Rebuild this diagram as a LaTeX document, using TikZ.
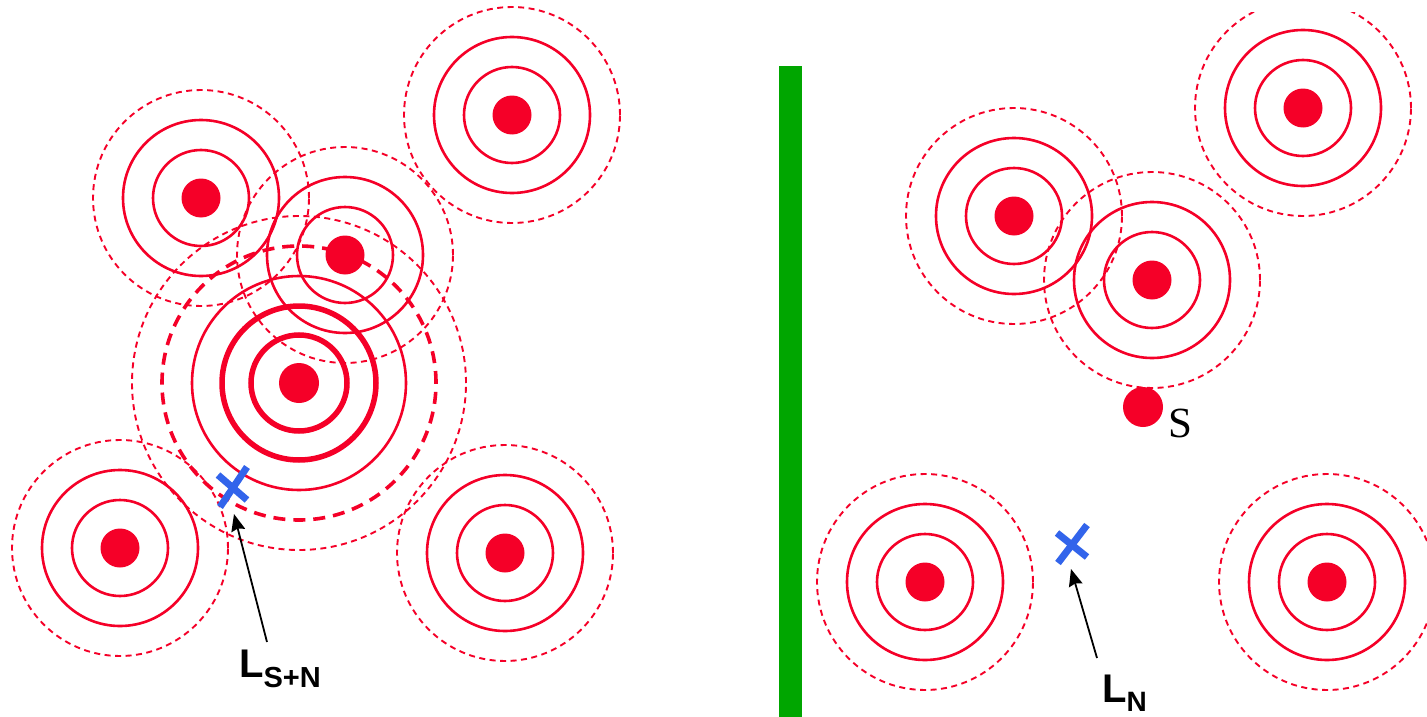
\documentclass[tikz,border=0pt]{standalone}
\usepackage{fontspec}
\setmainfont{Liberation Serif}
\setsansfont{Liberation Sans}
\usetikzlibrary{arrows.meta,calc}
\definecolor{rr}{RGB}{245,0,40}
\definecolor{bx}{RGB}{50,100,235}
\definecolor{gb}{RGB}{0,166,0}
\tikzset{
 dot/.style={circle,fill=rr,inner sep=0pt,minimum size=39pt},
 ring/.style={draw=rr,line width=2.6pt},
 dring/.style={draw=rr,line width=1.9pt,dash pattern=on 6pt off 4.5pt},
 thickring/.style={draw=rr,line width=5.5pt},
 tdring/.style={draw=rr,line width=3.6pt,dash pattern=on 12pt off 8pt},
 cross/.style={draw=bx,line width=7pt},
 arr/.style={draw=black,line width=1.8pt,-{Stealth[length=17pt,width=14pt,inset=2pt]}},
 lbl/.style={inner sep=0pt,anchor=base west,font=\sffamily\bfseries},
}
\newcommand\stdrings[1]{%
 \draw[ring] (#1) circle[radius=48pt] (#1) circle[radius=78pt];
 \draw[dring] (#1) circle[radius=108pt];}
\begin{document}
\begin{tikzpicture}[x=1pt,y=-1pt]
\useasboundingbox (0,0) rectangle (1427,717);
\fill[white] (0,0) rectangle (1427,717);
% ---- left panel centres
\coordinate (cA) at (201,198);
\coordinate (cB) at (345,255);
\coordinate (cC) at (299,383);
\coordinate (cD) at (120,548);
\coordinate (cE) at (505,553);
\coordinate (cF) at (512,115);
\foreach \c in {cA,cB,cD,cE,cF} {\stdrings{\c}}
% central source
\draw[thickring] (cC) circle[radius=48pt] (cC) circle[radius=77pt];
\draw[ring] (cC) circle[radius=107pt];
\draw[tdring] (cC) circle[radius=137pt];
\draw[dring] (cC) circle[radius=167pt];
\foreach \c/\n in {cA/dA,cB/dB,cD/dD,cE/dE,cF/dF} {\node[dot] (\n) at (\c) {};}
\node[dot,minimum size=40pt] (dC) at (cC) {};
% listener left
\coordinate (xL) at (233,487);
\draw[cross] ($(xL)+(-13,20)$) -- ($(xL)+(14,-20)$);
\draw[cross] ($(xL)+(-15,-12)$) -- ($(xL)+(14,13)$);
\coordinate (tL) at (267,642);
\coordinate (hL) at (234,514);
\draw[arr] (tL) -- (hL);
\node[lbl] (labL) at (239,677) {\fontsize{40}{40}\selectfont L\raisebox{-10pt}{\fontsize{29}{29}\selectfont S+N}};
% ---- green separator
\fill[gb] (779,66) rectangle (802,717);
% ---- right panel
\begin{scope}
\clip (803,13) rectangle (1427,717);
\coordinate (cG) at (1014,216);
\coordinate (cH) at (1152,280);
\coordinate (cI) at (1303,108);
\coordinate (cJ) at (925,582);
\coordinate (cK) at (1327,582);
\foreach \c in {cG,cH,cI,cJ,cK} {\stdrings{\c}}
\foreach \c/\n in {cG/dG,cH/dH,cI/dI,cJ/dJ,cK/dK} {\node[dot] (\n) at (\c) {};}
\end{scope}
\node[dot,minimum size=40pt] (dS) at (1143,407) {};
\node[inner sep=0pt,anchor=base west] (labS) at (1168,437) {\fontsize{43}{43}\selectfont S};
% listener right
\coordinate (xR) at (1073,545);
\draw[cross] ($(xR)+(-15,18)$) -- ($(xR)+(14,-20)$);
\draw[cross] ($(xR)+(-16,-12)$) -- ($(xR)+(14,12)$);
\coordinate (tR) at (1097,658);
\coordinate (hR) at (1071,569);
\draw[arr] (tR) -- (hR);
\node[lbl] (labR) at (1102,702) {\fontsize{40}{40}\selectfont L\raisebox{-9pt}{\fontsize{28}{28}\selectfont N}};
\end{tikzpicture}
\end{document}
